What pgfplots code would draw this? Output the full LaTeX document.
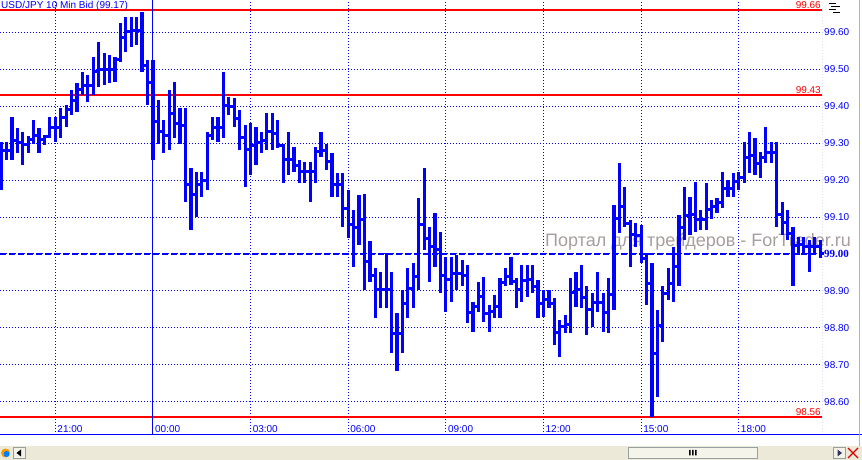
\documentclass[border=0pt]{standalone}
\usepackage{pgfplots}
\pgfplotsset{compat=1.18}
\usepackage{pgfplotstable}
\usepackage{fontspec}
\setmainfont{Liberation Sans}
\newfontfamily\serifb{Liberation Serif}
\definecolor{barblue}{RGB}{0,0,255}
\definecolor{wmgray}{RGB}{168,158,158}
\definecolor{xpgray}{RGB}{236,233,216}
\definecolor{xpborder}{RGB}{150,160,160}
\definecolor{orangeline}{RGB}{250,175,30}
\pgfdeclareplotmark{otick}{\pgfpathmoveto{\pgfqpoint{-4pt}{0pt}}\pgfpathlineto{\pgfqpoint{0pt}{0pt}}\pgfusepathqstroke}
\pgfdeclareplotmark{ctick}{\pgfpathmoveto{\pgfqpoint{0pt}{0pt}}\pgfpathlineto{\pgfqpoint{4pt}{0pt}}\pgfusepathqstroke}
\pgfplotstableread{
x o h l c
1 99.200 99.304 99.173 99.279
2 99.279 99.304 99.254 99.279
3 99.279 99.372 99.254 99.306
4 99.306 99.340 99.272 99.302
5 99.302 99.331 99.241 99.295
6 99.295 99.318 99.272 99.309
7 99.309 99.363 99.299 99.320
8 99.320 99.340 99.272 99.309
9 99.309 99.322 99.295 99.318
10 99.318 99.372 99.313 99.343
11 99.343 99.372 99.304 99.343
12 99.343 99.394 99.313 99.370
13 99.370 99.403 99.345 99.390
14 99.390 99.444 99.376 99.415
15 99.415 99.462 99.385 99.446
16 99.446 99.493 99.430 99.457
17 99.457 99.484 99.412 99.457
18 99.457 99.534 99.430 99.494
19 99.494 99.575 99.453 99.500
20 99.500 99.543 99.457 99.500
21 99.500 99.539 99.462 99.500
22 99.500 99.534 99.466 99.527
23 99.527 99.624 99.520 99.586
24 99.586 99.642 99.548 99.601
25 99.601 99.642 99.561 99.604
26 99.604 99.642 99.566 99.604
27 99.604 99.656 99.493 99.509
28 99.509 99.525 99.403 99.464
29 99.464 99.525 99.254 99.358
30 99.358 99.417 99.299 99.331
31 99.331 99.363 99.272 99.322
32 99.322 99.444 99.281 99.379
33 99.379 99.466 99.313 99.354
34 99.354 99.394 99.299 99.347
35 99.347 99.394 99.142 99.187
36 99.187 99.232 99.065 99.162
37 99.162 99.223 99.101 99.189
38 99.189 99.223 99.155 99.198
39 99.198 99.331 99.173 99.320
40 99.320 99.372 99.309 99.341
41 99.341 99.372 99.304 99.343
42 99.343 99.493 99.313 99.401
43 99.401 99.426 99.376 99.399
44 99.399 99.421 99.345 99.368
45 99.368 99.390 99.281 99.315
46 99.315 99.349 99.182 99.282
47 99.282 99.354 99.214 99.293
48 99.293 99.345 99.241 99.302
49 99.302 99.331 99.272 99.306
50 99.306 99.381 99.281 99.331
51 99.331 99.381 99.281 99.325
52 99.325 99.363 99.286 99.293
53 99.293 99.299 99.193 99.257
54 99.257 99.331 99.214 99.257
55 99.257 99.290 99.223 99.239
56 99.239 99.254 99.193 99.222
57 99.222 99.250 99.193 99.222
58 99.222 99.250 99.142 99.222
59 99.222 99.290 99.193 99.277
60 99.277 99.331 99.263 99.281
61 99.281 99.299 99.227 99.250
62 99.250 99.272 99.155 99.188
63 99.188 99.220 99.155 99.188
64 99.188 99.220 99.074 99.124
65 99.124 99.173 99.043 99.081
66 99.081 99.119 98.966 99.072
67 99.072 99.160 99.024 99.092
68 99.092 99.161 98.903 98.980
69 98.980 99.034 98.925 98.943
70 98.943 98.961 98.826 98.903
71 98.903 98.952 98.853 98.903
72 98.903 99.002 98.853 98.903
73 98.903 98.952 98.731 98.785
74 98.785 98.839 98.682 98.785
75 98.785 98.903 98.731 98.865
76 98.865 98.961 98.826 98.907
77 98.907 98.975 98.853 98.939
78 98.939 99.151 98.903 99.081
79 99.081 99.233 99.011 99.042
80 99.042 99.073 98.924 99.019
81 99.019 99.111 98.965 99.013
82 99.013 99.060 98.894 98.943
83 98.943 98.992 98.843 98.932
84 98.932 98.992 98.871 98.948
85 98.948 98.997 98.903 98.948
86 98.948 98.984 98.912 98.941
87 98.941 98.970 98.813 98.842
88 98.842 98.871 98.789 98.857
89 98.857 98.925 98.843 98.884
90 98.884 98.938 98.816 98.839
91 98.839 98.862 98.789 98.844
92 98.844 98.889 98.826 98.858
93 98.858 98.934 98.826 98.923
94 98.923 98.961 98.912 98.939
95 98.939 98.992 98.916 98.925
96 98.925 98.934 98.853 98.903
97 98.903 98.970 98.871 98.927
98 98.927 98.970 98.884 98.932
99 98.932 98.970 98.894 98.912
100 98.912 98.930 98.826 98.867
101 98.867 98.903 98.830 98.878
102 98.878 98.903 98.853 98.867
103 98.867 98.880 98.754 98.788
104 98.788 98.821 98.722 98.803
105 98.803 98.835 98.785 98.810
106 98.810 98.934 98.785 98.896
107 98.896 98.952 98.857 98.905
108 98.905 98.970 98.853 98.883
109 98.883 98.912 98.780 98.849
110 98.849 98.894 98.803 98.869
111 98.869 98.952 98.843 98.869
112 98.869 98.894 98.789 98.842
113 98.842 98.934 98.785 98.891
114 98.891 99.133 98.848 99.095
115 99.095 99.245 99.056 99.128
116 99.128 99.182 99.074 99.083
117 99.083 99.092 98.966 99.052
118 99.052 99.083 99.020 99.049
119 99.049 99.078 98.975 98.989
120 98.989 99.002 98.862 98.919
121 98.919 98.975 98.560 98.731
122 98.731 98.848 98.614 98.806
123 98.806 98.912 98.763 98.894
124 98.894 98.961 98.876 98.919
125 98.919 99.020 98.871 98.966
126 98.966 99.105 98.912 99.072
127 99.072 99.182 99.038 99.103
128 99.103 99.155 99.051 99.108
129 99.108 99.196 99.060 99.092
130 99.092 99.119 99.065 99.092
131 99.092 99.191 99.065 99.121
132 99.121 99.146 99.096 99.128
133 99.128 99.151 99.110 99.138
134 99.138 99.223 99.124 99.178
135 99.178 99.200 99.155 99.178
136 99.178 99.218 99.155 99.196
137 99.196 99.223 99.173 99.207
138 99.207 99.304 99.191 99.261
139 99.261 99.331 99.218 99.266
140 99.266 99.313 99.214 99.246
141 99.246 99.277 99.205 99.261
142 99.261 99.345 99.245 99.275
143 99.275 99.304 99.245 99.275
144 99.275 99.304 99.074 99.108
145 99.108 99.142 99.051 99.085
146 99.085 99.119 99.038 99.056
147 99.056 99.074 98.912 99.022
148 99.022 99.047 98.997 99.025
149 99.025 99.047 99.002 99.020
150 99.020 99.038 98.952 99.020
151 99.020 99.047 99.002 99.020
152 99.020 99.038 98.988 99.000
}\data
\begin{document}
\begin{tikzpicture}[x=1pt,y=1pt]
\useasboundingbox (0,0) rectangle (862,460);
\fill[white] (0,0) rectangle (862,460);
\fill[xpgray] (0,0) rectangle (862,14);
\node[anchor=base west, inner sep=0pt, text=wmgray, font=\fontsize{18}{20}\selectfont] at (545,213) {Портал для трейдеров - ForTrader.ru};
\begin{axis}[
  at={(0pt,25pt)}, anchor=south west,
  scale only axis, width=822pt, height=435pt,
  xmin=0.805, xmax=152.35, ymin=98.5101, ymax=99.6874,
  axis line style={draw=none}, major tick length=0pt,
  xtick={11,29,47,65,83,101,119,137},
  xticklabels={21:00,00:00,03:00,06:00,09:00,12:00,15:00,18:00},
  ytick={98.6,98.7,98.8,98.9,99.0,99.1,99.2,99.3,99.4,99.5,99.6},
  yticklabels={98.60,98.70,98.80,98.90,{\serifb\bfseries\fontsize{11}{12}\selectfont 99.00},99.10,99.20,99.30,99.40,99.50,99.60},
  yticklabel pos=right,
  xmajorgrids, ymajorgrids,
  grid style={barblue, line width=1pt, dash pattern=on 1pt off 2pt},
  tick label style={text=barblue, font=\fontsize{10}{12}\selectfont},
  xticklabel style={anchor=south west, inner sep=2pt},
  yticklabel style={anchor=west, inner sep=2pt},
]
\addplot[red, line width=2pt] coordinates {(0.805,99.66) (152.35,99.66)};
\addplot[red, line width=2pt] coordinates {(0.805,99.43) (152.35,99.43)};
\addplot[red, line width=2pt] coordinates {(0.805,98.56) (152.35,98.56)};
\addplot[barblue, line width=2.2pt, dash pattern=on 6pt off 3pt] coordinates {(0.805,99) (152.35,99)};
\addplot[draw=none, mark=none,
  error bars/.cd, y dir=minus, y explicit, error mark=none,
  error bar style={line width=3.2pt, draw=barblue, solid}]
  table[x=x, y=h, y error minus expr=\thisrow{h}-\thisrow{l}] {\data};
\addplot[only marks, mark=otick, mark options={draw=barblue, line width=3pt, solid}] table[x=x, y=o] {\data};
\addplot[only marks, mark=ctick, mark options={draw=barblue, line width=3pt, solid}] table[x=x, y=c] {\data};
\draw[barblue, line width=1pt] (axis cs:29,99.6874) -- (axis cs:29,98.5101) -- ++(0pt,-12pt);
\draw[barblue, line width=1pt, dash pattern=on 1pt off 2pt] (rel axis cs:1,0) -- (rel axis cs:1,1);
\node[anchor=south east, text=red, inner sep=1pt] at (axis cs:152.35,99.66) {99.66};
\node[anchor=south east, text=red, inner sep=1pt] at (axis cs:152.35,99.43) {99.43};
\node[anchor=south east, text=red, inner sep=1pt] at (axis cs:152.35,98.56) {98.56};
\node[anchor=north west, text=barblue, inner sep=1pt] at (rel axis cs:0,1) {USD/JPY 10 Min Bid (99.17)};
\node[anchor=north west, text=barblue, inner sep=2pt] at (axis cs:29,98.5101) {09 апр};
\end{axis}
\draw[barblue, line width=1pt] (0,25) -- (862,25);
\draw[orangeline, line width=1pt] (859.5,14) -- (859.5,460);
\filldraw[fill=xpgray!50!white, draw=xpborder] (628.5,1.5) rectangle (757.5,12.5);
\fill[black] (689,4.5) rectangle (690.5,10) (692,4.5) rectangle (693.5,10) (695,4.5) rectangle (696.5,10);
\filldraw[fill=xpgray!60!white, draw=xpborder] (833.5,1.5) rectangle (845.5,12.5);
\fill[black!70!blue!60!gray] (837.5,3.5) -- (842,7) -- (837.5,10.5) -- cycle;
\draw[red!85!black, line width=1.2pt] (848,2) -- (858,12) (848,12) -- (858,2);
\filldraw[fill=xpgray!60!white, draw=xpborder] (13.5,1.5) rectangle (25.5,12.5);
\fill[black] (21,3.5) -- (16.5,7) -- (21,10.5) -- cycle;
\fill[orange!80!yellow] (5.5,7) circle (4.5);
\fill[blue!50!cyan] (6.5,6) circle (3);
\draw[black, line width=0.8pt] (829,457) -- (836,457) (831,454) -- (840,454) (829,451) -- (836,451) (833,448) -- (840,448);
\end{tikzpicture}
\end{document}
